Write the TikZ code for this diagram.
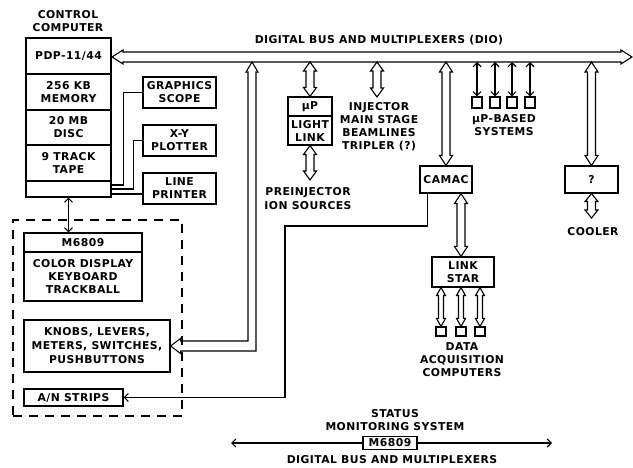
\documentclass[tikz,border=0pt]{standalone}
\usepackage{fontspec}
\setmainfont{DejaVu Sans}[LetterSpace=4]
\usetikzlibrary{arrows.meta,calc}
\newcommand\vha[5]{%
  \draw[ln] let \p1=(#1), \p2=(#2) in
    (\x1,\y1) -- (\x1-#4,\y1-#5) -- (\x1-#3,\y1-#5) -- (\x1-#3,\y2+#5) -- (\x1-#4,\y2+#5) -- (\x1,\y2)
    -- (\x1+#4,\y2+#5) -- (\x1+#3,\y2+#5) -- (\x1+#3,\y1-#5) -- (\x1+#4,\y1-#5) -- cycle;}
\begin{document}
\begin{tikzpicture}[x=1pt,y=-1pt,
  every node/.style={font=\bfseries\fontsize{10.8}{13}\selectfont, inner sep=0pt, align=center},
  box/.style={draw, line width=1.1pt},
  ln/.style={line width=1.1pt},
  tip/.style={-{Straight Barb[length=4pt,width=8pt]}},
  tips/.style={{Straight Barb[length=4pt,width=8pt]}-{Straight Barb[length=4pt,width=8pt]}},
  sq/.style={draw, line width=1.1pt, minimum width=10pt, minimum height=10pt}]
\useasboundingbox (0,0) rectangle (633,468);
% control computer
\node (cclabel) at (68,21.5) {CONTROL\\COMPUTER};
\node[box, minimum width=85pt, minimum height=36pt] (pdp) at (68.5,56) {PDP-11/44};
\node[box, minimum width=85pt, minimum height=36pt] (mem) at (68.5,92) {256 KB\\MEMORY};
\node[box, minimum width=85pt, minimum height=35pt] (disc) at (68.5,127.5) {20 MB\\DISC};
\node[box, minimum width=85pt, minimum height=36pt] (tape) at (68.5,163) {9 TRACK\\TAPE};
\node[box, minimum width=85pt, minimum height=16pt] (port) at (68.5,189) {};
% peripherals
\node[box, minimum width=73pt, minimum height=31pt] (gs) at (179.5,92.5) {GRAPHICS\\SCOPE};
\node[box, minimum width=73pt, minimum height=31pt] (xy) at (179.5,140.5) {X-Y\\PLOTTER};
\node[box, minimum width=73pt, minimum height=31pt] (lp) at (179.5,188.5) {LINE\\PRINTER};
\draw[ln] ([yshift=4pt]port.east) -- ++(12,0) |- (gs.west);
\draw[ln] (port.east) -- ++(22,0) |- (xy.west);
\draw[ln] ([yshift=-5pt]port.east) -- ([yshift=-5pt]port.east -| lp.west);
% console
\node[draw, line width=1.1pt, dash pattern=on 9pt off 7pt, minimum width=169pt, minimum height=196pt] (console) at (97.5,318) {};
\node[box, minimum width=118pt, minimum height=19pt] (m68a) at (83,242.5) {M6809};
\node[box, minimum width=118pt, minimum height=49pt] (m68b) at (83,276.5) {COLOR DISPLAY\\KEYBOARD\\TRACKBALL};
\node[box, minimum width=146pt, minimum height=52pt, font=\bfseries\fontsize{10.8}{14}\selectfont] (kn) at (97,346) {KNOBS, LEVERS,\\METERS, SWITCHES,\\PUSHBUTTONS};
\node[box, minimum width=99pt, minimum height=17pt] (an) at (73.5,397.5) {A/N STRIPS};
\draw[ln, tips] (port.south) -- (port.south |- m68a.north);
% bus
\coordinate (busL) at (112,57);
\coordinate (busR) at (632,57);
\coordinate (busb) at (0,62);
\node (buslabel) at (379,40) {DIGITAL BUS AND MULTIPLEXERS (DIO)};
\draw[ln] let \p1=(busL), \p2=(busR) in
  (\x1,\y1) -- (\x1+11pt,\y1+7pt) -- (\x1+11pt,\y1+5pt) -- (\x2-11pt,\y2+5pt) -- (\x2-11pt,\y2+7pt) -- (\x2,\y2)
  -- (\x2-11pt,\y2-7pt) -- (\x2-11pt,\y2-5pt) -- (\x1+11pt,\y1-5pt) -- (\x1+11pt,\y1-7pt) -- cycle;
% knobs L arrow
\coordinate (kt) at (252,62);
\draw[ln] let \p1=(kn.east), \p2=(kt) in
  (\x2,\y2) -- (\x2-6pt,\y2-10pt) -- (\x2-4pt,\y2-10pt) -- (\x2-4pt,\y1+5pt) -- (\x1+10pt,\y1+5pt)
  -- (\x1+10pt,\y1+7.5pt) -- (\x1,\y1) -- (\x1+10pt,\y1-7.5pt) -- (\x1+10pt,\y1-5pt)
  -- (\x2+4pt,\y1-5pt) -- (\x2+4pt,\y2-10pt) -- (\x2+6pt,\y2-10pt) -- cycle;
% light link
\node[box, minimum width=44pt, minimum height=19pt] (llmu) at (310,106.5) {µP};
\node[box, minimum width=44pt, minimum height=29pt] (lll) at (310,130.5) {LIGHT\\LINK};
\vha{llmu.north |- busb}{llmu.north}{4pt}{6.5pt}{9pt}
\coordinate (pre) at (310,180);
\vha{lll.south}{pre}{4pt}{6.5pt}{9pt}
\node (pretxt) at (308,199) {PREINJECTOR\\[1pt]ION SOURCES};
% injector
\coordinate (injend) at (377,97);
\vha{injend |- busb}{injend}{4pt}{6.5pt}{9pt}
\node (injtxt) at (379,126.5) {INJECTOR\\MAIN STAGE\\BEAMLINES\\TRIPLER (?)};
% uP based
\foreach \i/\xx in {1/477,2/495,3/512,4/530}{
  \node[sq, minimum height=11pt] (s\i) at (\xx,102.5) {};
  \draw[ln, tips] (s\i.north |- busb) -- (s\i.north);
}
\node (uptxt) at (504,125.5) {µP-BASED\\SYSTEMS};
% CAMAC
\node[box, minimum width=52pt, minimum height=27pt] (camac) at (446,179.5) {CAMAC};
\vha{camac.north |- busb}{camac.north}{4pt}{6.5pt}{10pt}
\node[box, minimum width=62pt, minimum height=30pt] (ls) at (463,272) {LINK\\STAR};
\vha{[xshift=15pt]camac.south}{ls.north}{4pt}{6.5pt}{10pt}
\foreach \i/\xx in {1/441,2/461,3/480}{
  \node[sq, minimum height=9pt] (d\i) at (\xx,331.5) {};
  \vha{d\i.north |- ls.south}{d\i.north}{2.5pt}{4.5pt}{8pt}
}
\node (datxt) at (462,360) {DATA\\ACQUISITION\\COMPUTERS};
% A/N line
\coordinate (anbend) at (285,226);
\draw[ln, tip] ([xshift=8pt]camac.south west) |- (anbend) |- (an.east);
% cooler
\node[box, minimum width=53pt, minimum height=27pt] (qb) at (591.5,179.5) {?};
\vha{qb.north |- busb}{qb.north}{4pt}{6.5pt}{10pt}
\coordinate (coolend) at (593,218);
\vha{qb.south}{coolend}{4pt}{6.5pt}{8pt}
\node (cooltxt) at (593,232) {COOLER};
% status monitoring
\node (sttxt) at (395,420) {STATUS\\MONITORING SYSTEM};
\node[box, minimum width=54pt, minimum height=13pt] (m2) at (390,443) {M6809};
\coordinate (stL) at (231,443);
\coordinate (stR) at (552,443);
\draw[ln, tip] (m2.west) -- (stL);
\draw[ln, tip] (m2.east) -- (stR);
\node (stbus) at (392,460) {DIGITAL BUS AND MULTIPLEXERS};
\end{tikzpicture}
\end{document}
